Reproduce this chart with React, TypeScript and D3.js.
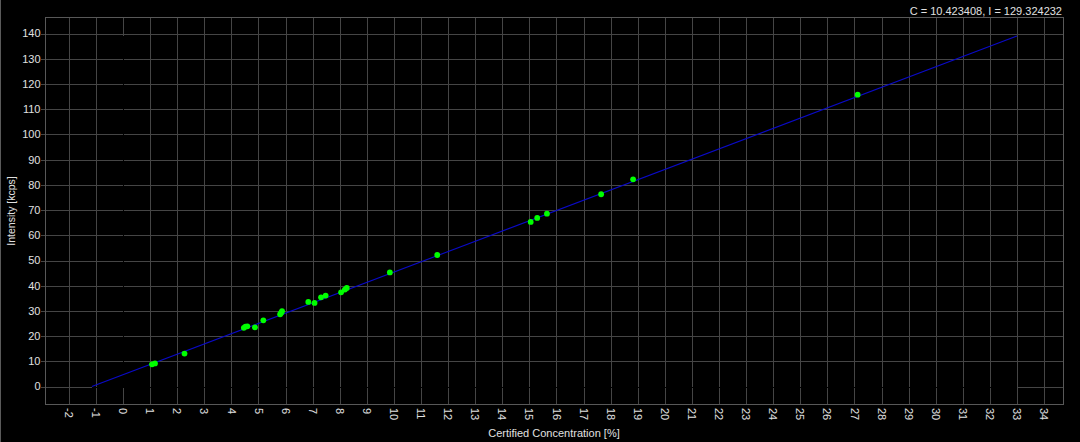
import React from "react";
import * as d3 from "d3";

const conc = [1.07, 1.18, 2.27, 4.46, 4.52, 4.59, 4.87, 5.18, 5.8, 5.84, 5.87, 6.84, 7.07, 7.31, 7.48, 8.05, 8.19, 8.26, 9.85, 11.6, 15.05, 15.29, 15.65, 17.65, 18.83, 27.12];
const intensity = [8.85, 9.2, 13.1, 23.3, 23.8, 23.9, 23.5, 26.3, 28.7, 29.3, 29.9, 33.6, 33.2, 35.4, 36.1, 37.4, 38.5, 39.1, 45.3, 52.2, 65.3, 66.9, 68.6, 76.3, 82.2, 115.8];
const fitC = [-1.15, 33];
const fitI = [0, 139.1];
const xTicks = d3.range(-2, 35, 1);
const yTicks = d3.range(0, 150, 10);
const annotation = "C = 10.423408, I = 129.324232";
const xLabel = "Certified Concentration [%]";
const yLabel = "Intensity [kcps]";

const W = 1080;
const H = 442;
const L = 45, R = 1063, T = 17.5, B = 404.5;

export default function App() {
  const x = d3.scaleLinear().domain([-2.88, 34.7]).range([L, R]);
  const y = d3.scaleLinear().domain([-7.1, 146.4]).range([B, T]);
  const px = (v: number) => Math.round(x(v)) + 0.5;
  const py = (v: number) => Math.round(y(v)) + 0.5;
  const line = d3.line<number>().x((_, i) => x(fitC[i])).y((d) => y(d));
  const font = "'Liberation Sans', Arial, sans-serif";
  const grid = "#454545";
  const txt = "#e0e0e0";
  return (
    <svg width={W} height={H} style={{ position: "absolute", left: 0, top: 0, background: "#000", display: "block" }} fontFamily={font}>
      <rect x={0} y={0} width={W} height={H} fill="#000" />
      <line x1={0.5} x2={0.5} y1={0} y2={H} stroke="#5a5a5a" />
      <g shapeRendering="crispEdges">
        {xTicks.map((t) => (
          <line key={"vx" + t} x1={px(t)} x2={px(t)} y1={T} y2={B} stroke={grid} />
        ))}
        {yTicks.map((t) => (
          <line key={"hy" + t} x1={L - 4} x2={R} y1={py(t)} y2={py(t)} stroke={grid} />
        ))}
        <line x1={x(fitC[0])} x2={x(fitC[1])} y1={py(0)} y2={py(0)} stroke="#000" strokeWidth={1.5} />
        <line x1={px(0)} x2={px(0)} y1={y(fitI[0])} y2={y(fitI[1])} stroke="#000" strokeWidth={1.5} />
        <rect x={L + 0.5} y={T} width={R - L} height={B - T} fill="none" stroke="#585858" />
      </g>
      <path d={line(fitI) || ""} fill="none" stroke="#0a0ac8" strokeWidth={1.1} />
      {conc.map((c, i) => (
        <circle key={"p" + i} cx={x(c)} cy={y(intensity[i])} r={2.9} fill="#00ff00" />
      ))}
      {yTicks.map((t) => (
        <text key={"ty" + t} x={40.5} y={y(t)} dy="0.35em" textAnchor="end" fontSize={11} fill={txt}>
          {t}
        </text>
      ))}
      {xTicks.map((t) => (
        <text key={"tx" + t} transform={`translate(${x(t)},408) rotate(90)`} dy="0.35em" textAnchor="start" fontSize={11} fill={txt}>
          {t}
        </text>
      ))}
      <text x={(L + R) / 2} y={437} textAnchor="middle" fontSize={11} fill={txt}>
        {xLabel}
      </text>
      <text transform={`translate(15,${(T + B) / 2}) rotate(-90)`} textAnchor="middle" fontSize={10.5} fill={txt}>
        {yLabel}
      </text>
      <text x={1062} y={15} textAnchor="end" fontSize={11} fill={txt}>
        {annotation}
      </text>
    </svg>
  );
}
